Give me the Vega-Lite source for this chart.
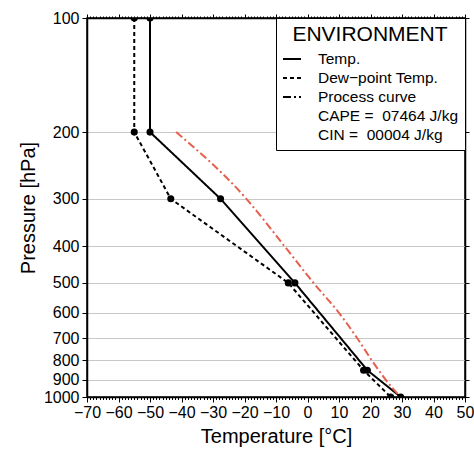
{
  "$schema": "https://vega.github.io/schema/vega-lite/v6.json",
  "width": 378,
  "height": 379,
  "autosize": "none",
  "padding": {"left": 87, "top": 18, "right": 9, "bottom": 53},
  "background": "white",
  "config": {
    "font": "Liberation Sans",
    "view": {"stroke": "black", "strokeWidth": 1.5},
    "axis": {
      "labelFont": "Liberation Sans",
      "labelFontSize": 16,
      "labelColor": "black",
      "titleFont": "Liberation Sans",
      "titleFontSize": 20,
      "titleFontWeight": "normal",
      "titleColor": "black",
      "domainColor": "black",
      "domainWidth": 1.5,
      "tickColor": "black",
      "tickWidth": 1
    },
    "legend": {
      "orient": "top-right",
      "offset": 0,
      "padding": 6,
      "strokeColor": "black",
      "fillColor": "white",
      "symbolType": "stroke",
      "symbolSize": 324,
      "symbolStrokeWidth": 2,
      "symbolStrokeColor": "black",
      "labelFont": "Liberation Sans",
      "labelFontSize": 15.5,
      "labelColor": "black",
      "labelOffset": 16,
      "labelLimit": 300,
      "titleFont": "Liberation Sans",
      "titleFontSize": 21,
      "titleFontWeight": "normal",
      "titleColor": "black",
      "titleAnchor": "middle",
      "titlePadding": 4,
      "rowPadding": 0
    }
  },
  "data": {
    "values": [
      {"series": "Temp.", "p": 100, "t": -50},
      {"series": "Temp.", "p": 200, "t": -50},
      {"series": "Temp.", "p": 300, "t": -27.6},
      {"series": "Temp.", "p": 500, "t": -4},
      {"series": "Temp.", "p": 850, "t": 19.0},
      {"series": "Temp.", "p": 1000, "t": 29.6},
      {"series": "Dew−point Temp.", "p": 100, "t": -55},
      {"series": "Dew−point Temp.", "p": 200, "t": -55},
      {"series": "Dew−point Temp.", "p": 300, "t": -43.4},
      {"series": "Dew−point Temp.", "p": 500, "t": -6.1},
      {"series": "Dew−point Temp.", "p": 850, "t": 17.8},
      {"series": "Dew−point Temp.", "p": 1000, "t": 26.4},
      {"series": "Process curve", "p": 200, "t": -41.7},
      {"series": "Process curve", "p": 300, "t": -19.4},
      {"series": "Process curve", "p": 400, "t": -7.3},
      {"series": "Process curve", "p": 500, "t": 1.9},
      {"series": "Process curve", "p": 600, "t": 10.0},
      {"series": "Process curve", "p": 700, "t": 15.8},
      {"series": "Process curve", "p": 800, "t": 20.4},
      {"series": "Process curve", "p": 900, "t": 24.8},
      {"series": "Process curve", "p": 1000, "t": 29.5}
    ]
  },
  "layer": [
    {
      "transform": [{"filter": "datum.series !== 'Process curve'"}],
      "mark": {"type": "line", "clip": true, "strokeWidth": 2, "color": "black"},
      "encoding": {
        "x": {
          "field": "t", "type": "quantitative",
          "scale": {"domain": [-70, 50], "nice": false, "zero": false},
          "axis": {
            "orient": "bottom",
            "values": [-70,-69,-68,-67,-66,-65,-64,-63,-62,-61,-60,-59,-58,-57,-56,-55,-54,-53,-52,-51,-50,-49,-48,-47,-46,-45,-44,-43,-42,-41,-40,-39,-38,-37,-36,-35,-34,-33,-32,-31,-30,-29,-28,-27,-26,-25,-24,-23,-22,-21,-20,-19,-18,-17,-16,-15,-14,-13,-12,-11,-10,-9,-8,-7,-6,-5,-4,-3,-2,-1,0,1,2,3,4,5,6,7,8,9,10,11,12,13,14,15,16,17,18,19,20,21,22,23,24,25,26,27,28,29,30,31,32,33,34,35,36,37,38,39,40,41,42,43,44,45,46,47,48,49,50],
            "labelExpr": "datum.value % 10 == 0 ? format(datum.value, 'd') : ''",
            "labelOverlap": false,
            "labelFlush": false,
            "tickSize": {"condition": {"test": "datum.value % 10 == 0", "value": 5}, "value": 2.5},
            "labelPadding": 2,
            "grid": false,
            "title": "Temperature [°C]",
            "titlePadding": 6
          }
        },
        "y": {
          "field": "p", "type": "quantitative",
          "scale": {"type": "log", "domain": [100, 1000], "reverse": true, "nice": false},
          "axis": {
            "orient": "left",
            "values": [100, 200, 300, 400, 500, 600, 700, 800, 900, 1000],
            "format": "d",
            "grid": true,
            "gridColor": "#c8c8c8",
            "gridWidth": 1,
            "tickSize": 5,
            "labelPadding": 3,
            "labelOverlap": false,
            "labelFlush": false,
            "title": "Pressure [hPa]",
            "titlePadding": 5
          }
        },
        "order": {"field": "p", "type": "quantitative"},
        "strokeDash": {
          "field": "series", "type": "nominal",
          "scale": {
            "domain": ["Temp.", "Dew−point Temp.", "Process curve", "CAPE", "CIN"],
            "range": [[1, 0], [4, 3], [8, 3, 2, 3], [0, 1000], [0, 1000]]
          },
          "legend": {
            "title": "ENVIRONMENT",
            "labelExpr": "datum.label == 'CAPE' ? 'CAPE =\u00a0\u00a007464 J/kg' : datum.label == 'CIN' ? '\u00a0CIN =\u00a0\u00a000004 J/kg' : datum.label"
          }
        }
      }
    },
    {
      "transform": [{"filter": "datum.series === 'Process curve'"}],
      "mark": {"type": "line", "clip": true, "strokeWidth": 2, "color": "#e5604d", "interpolate": "monotone"},
      "encoding": {
        "x": {"field": "t", "type": "quantitative", "axis": null},
        "y": {"field": "p", "type": "quantitative", "axis": null},
        "order": {"field": "p", "type": "quantitative"},
        "strokeDash": {
          "field": "series", "type": "nominal",
          "legend": {
            "title": "ENVIRONMENT",
            "labelExpr": "datum.label == 'CAPE' ? 'CAPE =\u00a0\u00a007464 J/kg' : datum.label == 'CIN' ? '\u00a0CIN =\u00a0\u00a000004 J/kg' : datum.label"
          }
        }
      }
    },
    {
      "transform": [{"filter": "datum.series !== 'Process curve'"}],
      "mark": {"type": "circle", "clip": true, "size": 50, "color": "black", "opacity": 1},
      "encoding": {
        "x": {
          "field": "t", "type": "quantitative",
          "axis": {
            "orient": "top",
            "values": [-70,-69,-68,-67,-66,-65,-64,-63,-62,-61,-60,-59,-58,-57,-56,-55,-54,-53,-52,-51,-50,-49,-48,-47,-46,-45,-44,-43,-42,-41,-40,-39,-38,-37,-36,-35,-34,-33,-32,-31,-30,-29,-28,-27,-26,-25,-24,-23,-22,-21,-20,-19,-18,-17,-16,-15,-14,-13,-12,-11,-10,-9,-8,-7,-6,-5,-4,-3,-2,-1,0,1,2,3,4,5,6,7,8,9,10,11,12,13,14,15,16,17,18,19,20,21,22,23,24,25,26,27,28,29,30,31,32,33,34,35,36,37,38,39,40,41,42,43,44,45,46,47,48,49,50],
            "labels": false,
            "grid": false,
            "tickSize": {"condition": {"test": "datum.value % 10 == 0", "value": 4}, "value": 2},
            "title": null
          }
        },
        "y": {
          "field": "p", "type": "quantitative",
          "axis": {
            "orient": "right",
            "values": [100, 200, 300, 400, 500, 600, 700, 800, 900, 1000],
            "labels": false,
            "grid": false,
            "tickSize": 4,
            "title": null
          }
        }
      }
    }
  ],
  "resolve": {"axis": {"x": "independent", "y": "independent"}}
}
